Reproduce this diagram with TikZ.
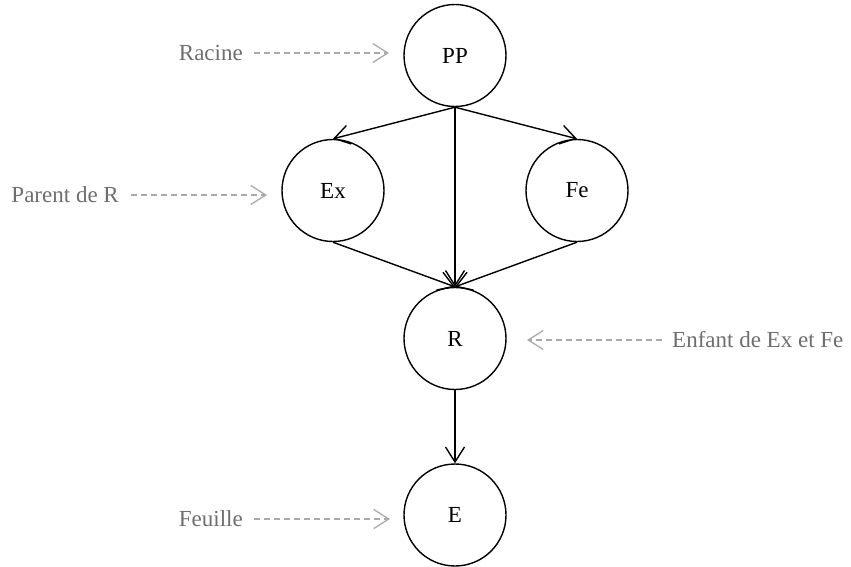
\documentclass[tikz,border=0pt]{standalone}
\usepackage{fontspec}
\setmainfont{Liberation Serif}
\usetikzlibrary{arrows.meta}
\definecolor{labgray}{HTML}{6E6E6E}
\definecolor{arrgray}{HTML}{AAAAAA}
\begin{document}
\begin{tikzpicture}[x=1pt,y=-1pt,
  state/.style={circle,draw=black,line width=1.4pt,minimum size=102pt,inner sep=0pt,
    font=\fontsize{23pt}{27pt}\selectfont},
  edge/.style={draw=black,line width=1.4pt,-{Straight Barb[length=15pt,width=19pt,line width=1.4pt]}},
  note/.style={text=labgray,inner sep=0pt,font=\fontsize{23pt}{27pt}\selectfont},
  hint/.style={draw=arrgray,line width=1.3pt,dash pattern=on 6pt off 4pt,
    -{Straight Barb[length=15pt,width=19pt,line width=1.3pt]}}]
\useasboundingbox (0,0) rectangle (851,566);
\node[state] (PP) at (455,55.5) {PP};
\node[state] (Ex) at (333,190.5) {Ex};
\node[state] (Fe) at (577,190.5) {Fe};
\node[state] (R) at (455,338.5) {R};
\node[state] (E) at (455,515) {E};
\draw[edge] (PP.south) -- (Ex.north);
\draw[edge] (PP.south) -- (Fe.north);
\draw[edge] (PP.south) -- (R.north);
\draw[edge] (Ex.south) -- (R.north);
\draw[edge] (Fe.south) -- (R.north);
\draw[edge] (R.south) -- (E.north);
% annotations
\node[note,anchor=east] (lRac) at (243,53) {Racine};
\coordinate (cRac) at (389,53);
\draw[hint,shorten <=11pt] (lRac.east) -- (cRac);
\node[note,anchor=east] (lPar) at (119,195) {Parent de R};
\coordinate (cPar) at (267,195);
\draw[hint,shorten <=12pt] (lPar.east) -- (cPar);
\node[note,anchor=west] (lEnf) at (672,340) {Enfant de Ex et Fe};
\coordinate (cEnf) at (527,340);
\draw[hint,shorten <=10pt] (lEnf.west) -- (cEnf);
\node[note,anchor=east] (lFeu) at (243,519) {Feuille};
\coordinate (cFeu) at (390,519);
\draw[hint,shorten <=11pt] (lFeu.east) -- (cFeu);
\end{tikzpicture}
\end{document}
